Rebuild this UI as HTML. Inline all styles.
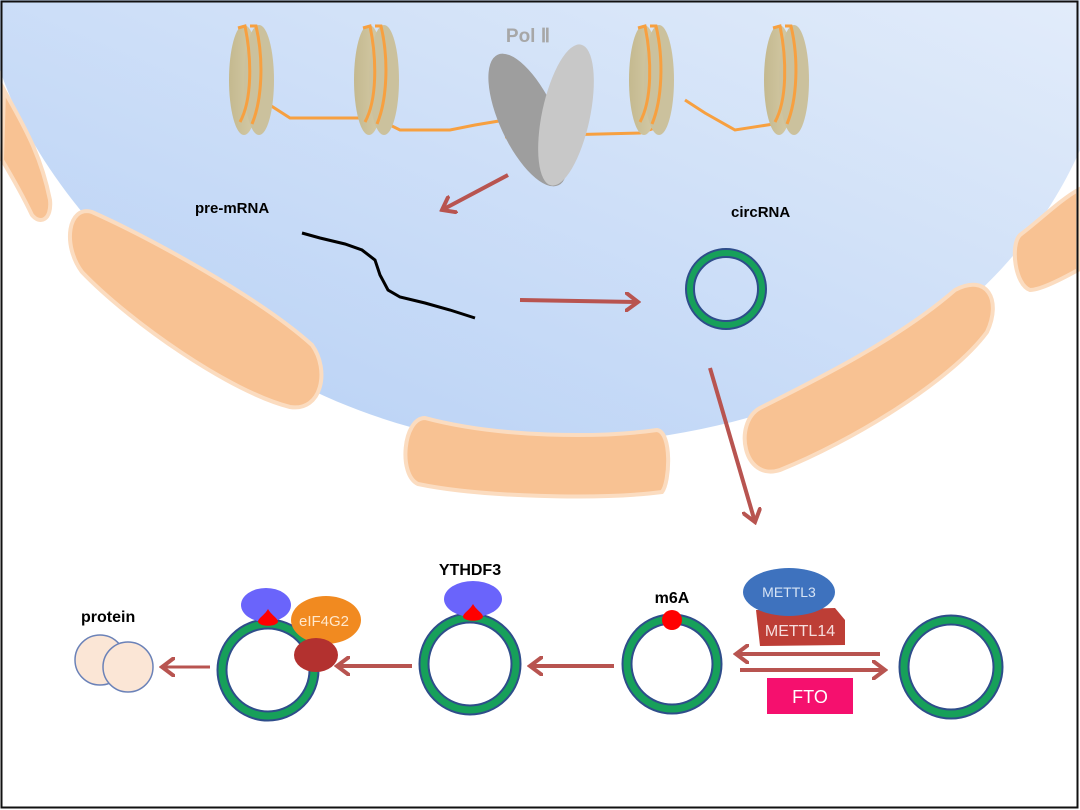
<!DOCTYPE html>
<html><head><meta charset="utf-8"><style>
html,body{margin:0;padding:0;background:#fff}
svg{display:block}
text{font-family:"Liberation Sans",sans-serif}
</style></head><body>
<svg width="1080" height="810" viewBox="0 0 1080 810" xmlns="http://www.w3.org/2000/svg">
<defs>
<linearGradient id="nuc" x1="1" y1="0" x2="0" y2="1">
<stop offset="0" stop-color="#e2ecfa"/><stop offset="1" stop-color="#b5cff5"/>
</linearGradient>
<linearGradient id="nucl" x1="0" y1="0" x2="1" y2="0">
<stop offset="0" stop-color="#c4b98f"/><stop offset="1" stop-color="#d6ccaa"/>
</linearGradient>
<marker id="ah2" markerWidth="16" markerHeight="20" refX="13" refY="10" orient="auto" markerUnits="userSpaceOnUse">
<path d="M1,1 L13,10 L1,19" fill="none" stroke="#b85450" stroke-width="4" stroke-linecap="round"/>
</marker>
</defs>
<rect x="0" y="0" width="1080" height="810" fill="#fff"/>
<path d="M0,70 C 60,250 300,445 540,445 C 800,445 1000,330 1080,150 L1080,0 L0,0 Z" fill="url(#nuc)"/>
<!-- ER -->
<g fill="#f8c293" stroke="#fbdcc0" stroke-width="4">
<path d="M4,90 C 20,120 40,150 50,200 C 52,220 40,225 32,215 C 20,190 8,170 2,160 Z"/>
<path d="M92,212 C 150,238 260,298 312,345 C 330,370 322,412 290,407 C 230,392 130,322 82,272 C 62,245 68,205 92,212 Z"/>
<path d="M425,418 C 500,438 600,438 657,430 C 672,432 670,482 662,492 C 600,500 480,497 418,484 C 398,475 403,418 425,418 Z"/>
<path d="M760,408 C 820,378 900,338 955,290 C 987,273 1002,300 987,332 C 950,382 850,442 780,470 C 743,482 733,423 760,408 Z"/>
<path d="M1020,235 C 1040,220 1060,200 1078,190 L1078,270 C 1060,280 1040,290 1030,290 C 1015,285 1010,245 1020,235 Z"/>
</g>
<!-- DNA linkers -->
<g fill="none" stroke="#f7a040" stroke-width="3">
<path d="M262,100 L290,118 L335,118 L380,118"/>
<path d="M366,113 L400,130 L420,130 L450,130 L475,125 L505,120"/>
<path d="M505,137 L520,135 L560,135 L640,133 L655,128"/>
<path d="M685,100 L705,113 L735,130 L780,123 L790,113"/>
</g>
<!-- nucleosomes -->
<g id="n1">
<ellipse cx="244" cy="80" rx="15" ry="55" fill="url(#nucl)"/>
<ellipse cx="259" cy="80" rx="15" ry="55" fill="#cbc19d"/>
<path d="M238,28 L245,26 C252,60 252,100 240,122 M250,26 L256,26 C264,60 262,100 252,124" fill="none" stroke="#f7a040" stroke-width="3"/>
</g>
<use href="#n1" x="125"/>
<use href="#n1" x="400"/>
<use href="#n1" x="535"/>
<!-- Pol II -->
<ellipse cx="528" cy="120" rx="28" ry="72" transform="rotate(-25 528 120)" fill="#9e9e9e"/>
<ellipse cx="566" cy="115" rx="24" ry="72" transform="rotate(12 566 115)" fill="#c8c8c8"/>
<text x="528" y="42" text-anchor="middle" font-size="19" font-weight="bold" fill="#a7a7a7">Pol Ⅱ</text>
<!-- arrows top -->
<line x1="508" y1="175" x2="442" y2="210" stroke="#b85450" stroke-width="4" marker-end="url(#ah2)"/>
<line x1="520" y1="300" x2="638" y2="302" stroke="#b85450" stroke-width="4" marker-end="url(#ah2)"/>
<line x1="710" y1="368" x2="755" y2="522" stroke="#b85450" stroke-width="4" marker-end="url(#ah2)"/>
<text x="195" y="213" font-size="15" font-weight="bold" fill="#000">pre-mRNA</text>
<text x="731" y="217" font-size="15" font-weight="bold" fill="#000">circRNA</text>
<path d="M302,233 L320,238 L345,244 L362,250 L375,260 L380,275 L388,290 L400,297 L425,303 L450,310 L475,318" fill="none" stroke="#000" stroke-width="3"/>
<!-- rings -->
<g fill="none">
<circle cx="726" cy="289" r="36" stroke="#2e4d8a" stroke-width="10"/><circle cx="726" cy="289" r="36" stroke="#17a05a" stroke-width="6"/>
<circle cx="268" cy="670" r="46" stroke="#2e4d8a" stroke-width="11"/><circle cx="268" cy="670" r="46" stroke="#17a05a" stroke-width="7"/>
<circle cx="470" cy="664" r="46" stroke="#2e4d8a" stroke-width="11"/><circle cx="470" cy="664" r="46" stroke="#17a05a" stroke-width="7"/>
<circle cx="672" cy="664" r="45" stroke="#2e4d8a" stroke-width="11"/><circle cx="672" cy="664" r="45" stroke="#17a05a" stroke-width="7"/>
<circle cx="951" cy="667" r="47" stroke="#2e4d8a" stroke-width="11"/><circle cx="951" cy="667" r="47" stroke="#17a05a" stroke-width="7"/>
</g>
<!-- proteins -->
<circle cx="100" cy="660" r="25" fill="#fbe6d6" stroke="#6b82b8" stroke-width="1.5"/>
<circle cx="128" cy="667" r="25" fill="#fbe6d6" stroke="#6b82b8" stroke-width="1.5"/>
<text x="81" y="622" font-size="16" font-weight="bold" fill="#000">protein</text>
<!-- YTHDF3 blobs -->
<ellipse cx="266" cy="605" rx="25" ry="17" fill="#6a64fb"/>
<path d="M268,609 C 272,616 278,618 278,622 C 276,627 260,627 258,622 C 258,618 264,616 268,609 Z" fill="#f00"/>
<ellipse cx="326" cy="620" rx="35" ry="24" fill="#f18a20"/>
<text x="324" y="626" text-anchor="middle" font-size="15" fill="#ffe8cc">eIF4G2</text>
<ellipse cx="316" cy="655" rx="22" ry="17" fill="#b3312f"/>
<ellipse cx="473" cy="599" rx="29" ry="18" fill="#6a64fb"/>
<path d="M473,604 C 477,611 483,613 483,617 C 481,622 465,622 463,617 C 463,613 469,611 473,604 Z" fill="#f00"/>
<text x="470" y="575" text-anchor="middle" font-size="16" font-weight="bold" fill="#000">YTHDF3</text>
<circle cx="672" cy="620" r="10" fill="#f00"/>
<text x="672" y="603" text-anchor="middle" font-size="16" font-weight="bold" fill="#000">m6A</text>
<!-- METTL -->
<path d="M756,610 L835,608 L845,620 L845,645 L760,646 Z" fill="#bd3e36"/>
<text x="800" y="636" text-anchor="middle" font-size="16" fill="#f6dede">METTL14</text>
<ellipse cx="789" cy="592" rx="46" ry="24" fill="#3e72be"/>
<text x="789" y="597" text-anchor="middle" font-size="14" fill="#d7e4f5">METTL3</text>
<rect x="767" y="678" width="86" height="36" fill="#f5106e"/>
<text x="810" y="703" text-anchor="middle" font-size="18" fill="#fff">FTO</text>
<!-- bottom arrows -->
<g stroke="#b85450" stroke-width="4">
<line x1="880" y1="654" x2="736" y2="654" marker-end="url(#ah2)"/>
<line x1="740" y1="670" x2="885" y2="670" marker-end="url(#ah2)"/>
<line x1="614" y1="666" x2="530" y2="666" marker-end="url(#ah2)"/>
<line x1="412" y1="666" x2="337" y2="666" marker-end="url(#ah2)"/>
<line x1="210" y1="667" x2="162" y2="667" stroke-width="3" marker-end="url(#ah2)"/>
</g>
<rect x="1.5" y="1.5" width="1076" height="806" fill="none" stroke="#111" stroke-width="2"/>
</svg>
</body></html>
